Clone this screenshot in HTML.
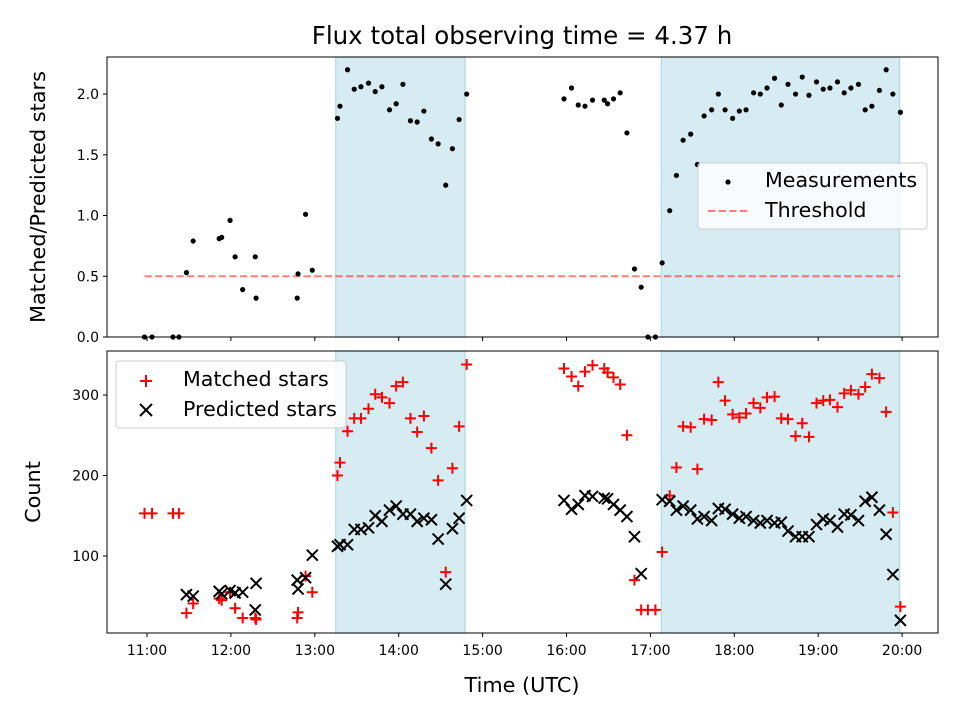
<!DOCTYPE html>
<html><head><meta charset="utf-8"><style>
body{margin:0;background:#fff;}
svg{display:block;font-family:"DejaVu Sans","Liberation Sans",sans-serif;}
</style></head><body>
<svg id="chart" width="960" height="720" viewBox="0 0 960 720" xmlns="http://www.w3.org/2000/svg"></svg>
<script>
const ratioTimes=[10.97,11.06,11.31,11.38,11.47,11.55,11.86,11.89,11.99,12.05,12.14,12.29,12.30,12.79,12.80,12.89,12.97,13.27,13.30,13.39,13.47,13.55,13.64,13.72,13.80,13.89,13.97,14.05,14.14,14.22,14.30,14.39,14.47,14.56,14.64,14.72,14.81,15.97,16.06,16.14,16.22,16.31,16.45,16.49,16.56,16.64,16.72,16.81,16.89,16.97,17.06,17.14,17.23,17.31,17.39,17.48,17.56,17.64,17.73,17.81,17.89,17.98,18.06,18.14,18.23,18.31,18.39,18.48,18.56,18.64,18.73,18.81,18.89,18.98,19.06,19.14,19.23,19.31,19.39,19.48,19.56,19.64,19.73,19.81,19.89,19.98];
const ratioValues=[0,0,0,0,0.53,0.79,0.81,0.82,0.96,0.66,0.39,0.66,0.32,0.32,0.52,1.01,0.55,1.80,1.90,2.20,2.04,2.06,2.09,2.02,2.06,1.87,1.92,2.08,1.78,1.77,1.86,1.63,1.59,1.25,1.55,1.79,2.00,1.96,2.05,1.91,1.90,1.95,1.95,1.92,1.96,2.01,1.68,0.56,0.41,0,0,0.61,1.04,1.33,1.62,1.67,1.42,1.82,1.87,2.00,1.87,1.80,1.86,1.87,2.01,2.00,2.05,2.13,1.91,2.08,2.00,2.14,1.99,2.10,2.04,2.05,2.10,2.01,2.05,2.08,1.87,1.90,2.03,2.20,2.00,1.85];
const matchedTimes=[10.97,11.06,11.31,11.38,11.47,11.55,11.86,11.89,11.99,12.05,12.14,12.29,12.30,12.79,12.80,12.89,12.97,13.27,13.30,13.39,13.47,13.55,13.64,13.72,13.80,13.89,13.97,14.05,14.14,14.22,14.30,14.39,14.47,14.56,14.64,14.72,14.81,15.97,16.06,16.14,16.22,16.31,16.45,16.49,16.56,16.64,16.72,16.81,16.89,16.97,17.06,17.14,17.23,17.31,17.39,17.48,17.56,17.64,17.73,17.81,17.89,17.98,18.06,18.14,18.23,18.31,18.39,18.48,18.56,18.64,18.73,18.81,18.89,18.98,19.06,19.14,19.23,19.31,19.39,19.48,19.56,19.64,19.73,19.81,19.89,19.98];
const matchedValues=[153,153,153,153,29,41,47,45,55,35,23,23,21,23,30,75,55,200,216,255,271,271,283,301,297,290,311,316,271,254,274,234,194,80,209,261,338,333,323,311,329,337,333,328,322,313,250,70,33,33,33,105,175,210,261,260,208,270,269,316,293,276,272,277,290,284,297,298,271,270,249,265,248,290,293,294,285,302,306,301,310,326,321,279,154,37];
const predictedTimes=[11.47,11.55,11.86,11.89,11.99,12.05,12.14,12.29,12.30,12.79,12.80,12.89,12.97,13.27,13.30,13.39,13.47,13.55,13.64,13.72,13.80,13.89,13.97,14.05,14.14,14.22,14.30,14.39,14.47,14.56,14.64,14.72,14.81,15.97,16.06,16.14,16.22,16.31,16.45,16.49,16.56,16.64,16.72,16.81,16.89,17.14,17.23,17.31,17.39,17.48,17.56,17.64,17.73,17.81,17.89,17.98,18.06,18.14,18.23,18.31,18.39,18.48,18.56,18.64,18.73,18.81,18.89,18.98,19.06,19.14,19.23,19.31,19.39,19.48,19.56,19.64,19.73,19.81,19.89,19.98];
const predictedValues=[52,50,56,53,57,54,55,33,66,70,59,73,101,112,114,114,133,133,135,150,143,157,162,152,152,143,147,145,121,65,134,147,169,169,158,164,175,174,172,171,164,157,149,124,78,170,168,157,162,157,146,149,144,159,158,152,147,149,144,141,144,141,142,131,124,124,124,139,146,144,136,152,151,144,168,173,157,127,77,20];
const spanStarts=[13.25,17.13];
const spanEnds=[14.79,19.97];
const xTickHours=[11,12,13,14,15,16,17,18,19,20];
const xTickLabels=["11:00","12:00","13:00","14:00","15:00","16:00","17:00","18:00","19:00","20:00"];
const topTicks=[0,0.5,1,1.5,2];
const topTickLabels=["0.0","0.5","1.0","1.5","2.0"];
const botTicks=[100,200,300];
const threshold=0.5;
const thresholdStart=10.97, thresholdEnd=19.98;

const NS="http://www.w3.org/2000/svg";
const svg=document.getElementById('chart');
function mk(tag,attrs,parent){const e=document.createElementNS(NS,tag);for(const k in attrs)e.setAttribute(k,attrs[k]);(parent||svg).appendChild(e);return e;}
const L=107,R=938;
const xMin=10.523,xMax=20.428;
const x=h=>L+(h-xMin)/(xMax-xMin)*(R-L);
const T1=57,B1=337,T2=351,B2=633;
const yTop=v=>B1-v/2.305*(B1-T1);
const yBot=v=>B2-(v-4.3)/(354.7-4.3)*(B2-T2);

function panel(T,B,name){
  const g=mk('g',{});
  
  
  for(let i=0;i<spanStarts.length;i++){
    const r=mk('rect',{x:x(spanStarts[i]),y:T,width:x(spanEnds[i])-x(spanStarts[i]),height:B-T,fill:'#add8e6','fill-opacity':0.5,stroke:'#add8e6','stroke-width':1.2},g);
    
    
  }
  return g;
}
function frame(T,B,name){
  const r=mk('rect',{x:L,y:T,width:R-L,height:B-T,fill:'none',stroke:'#000','stroke-width':1});
  
  
}
const gt=panel(T1,B1,'top-panel');
const th=mk('line',{x1:x(thresholdStart),x2:x(thresholdEnd),y1:yTop(threshold),y2:yTop(threshold),stroke:'#ff0000','stroke-opacity':0.5,'stroke-width':2,'stroke-dasharray':'7.4,3.2'},gt);


for(let i=0;i<ratioTimes.length;i++){
  const c=mk('circle',{cx:x(ratioTimes[i]),cy:yTop(ratioValues[i]),r:2.6,fill:'#000'},gt);
  
  
}
frame(T1,B1,'top-axes-frame');
topTicks.forEach((v,i)=>{
  mk('line',{x1:L-4,x2:L,y1:yTop(v),y2:yTop(v),stroke:'#000'});
  const t=mk('text',{x:L-8,y:yTop(v)+5,'text-anchor':'end','font-size':14});
  t.textContent=topTickLabels[i];
  
  
});
xTickHours.forEach(h=>{mk('line',{x1:x(h),x2:x(h),y1:B1,y2:B1+4,stroke:'#000'});});
const gb=panel(T2,B2,'bottom-panel');
for(let i=0;i<matchedTimes.length;i++){
  const cx=x(matchedTimes[i]),cy=yBot(matchedValues[i]);
  const p=mk('path',{d:`M${cx-5.5},${cy}H${cx+5.5}M${cx},${cy-5.5}V${cy+5.5}`,stroke:'#ff0000','stroke-width':2},gb);
  
  
}
for(let i=0;i<predictedTimes.length;i++){
  const cx=x(predictedTimes[i]),cy=yBot(predictedValues[i]);
  const p=mk('path',{d:`M${cx-5.5},${cy-5.5}L${cx+5.5},${cy+5.5}M${cx-5.5},${cy+5.5}L${cx+5.5},${cy-5.5}`,stroke:'#000','stroke-width':2},gb);
  
  
}
frame(T2,B2,'bottom-axes-frame');
botTicks.forEach(v=>{
  mk('line',{x1:L-4,x2:L,y1:yBot(v),y2:yBot(v),stroke:'#000'});
  const t=mk('text',{x:L-8,y:yBot(v)+5,'text-anchor':'end','font-size':14});
  t.textContent=String(v);
  
  
});
xTickHours.forEach((h,i)=>{
  mk('line',{x1:x(h),x2:x(h),y1:B2,y2:B2+4,stroke:'#000'});
  const t=mk('text',{x:x(h),y:B2+22,'text-anchor':'middle','font-size':14});
  t.textContent=xTickLabels[i];
  
  
});
</script>
<svg style="position:absolute;left:0;top:0" width="960" height="720" xmlns="http://www.w3.org/2000/svg" font-family="DejaVu Sans, Liberation Sans, sans-serif">
<text x="522" y="44" text-anchor="middle" font-size="24.5">Flux total observing time = 4.37 h</text>
<text x="0" y="0" transform="translate(45,197) rotate(-90)" text-anchor="middle" font-size="20.8">Matched/Predicted stars</text>
<text x="0" y="0" transform="translate(40,492) rotate(-90)" text-anchor="middle" font-size="20.8">Count</text>
<text x="522" y="692" text-anchor="middle" font-size="20.8">Time (UTC)</text>
<g>
<rect x="698" y="163" width="229" height="66" rx="3" fill="#fff" fill-opacity="0.8" stroke="#ccc"/>
<circle cx="728" cy="182" r="2.6" fill="#000"/>
<text x="765" y="187" font-size="20.6">Measurements</text>
<line x1="708" x2="748" y1="211" y2="211" stroke="#ff0000" stroke-opacity="0.5" stroke-width="2" stroke-dasharray="7.4,3.2"/>
<text x="765" y="217" font-size="20.6">Threshold</text>
</g>
<g>
<rect x="116" y="361" width="230" height="67" rx="3" fill="#fff" fill-opacity="0.8" stroke="#ccc"/>
<path d="M140,381H152M146,375V387" stroke="#ff0000" stroke-width="2"/>
<text x="183" y="386" font-size="20.6">Matched stars</text>
<path d="M140,404L152,416M140,416L152,404" stroke="#000" stroke-width="2"/>
<text x="183" y="416" font-size="20.6">Predicted stars</text>
</g>
</svg>
</body></html>
